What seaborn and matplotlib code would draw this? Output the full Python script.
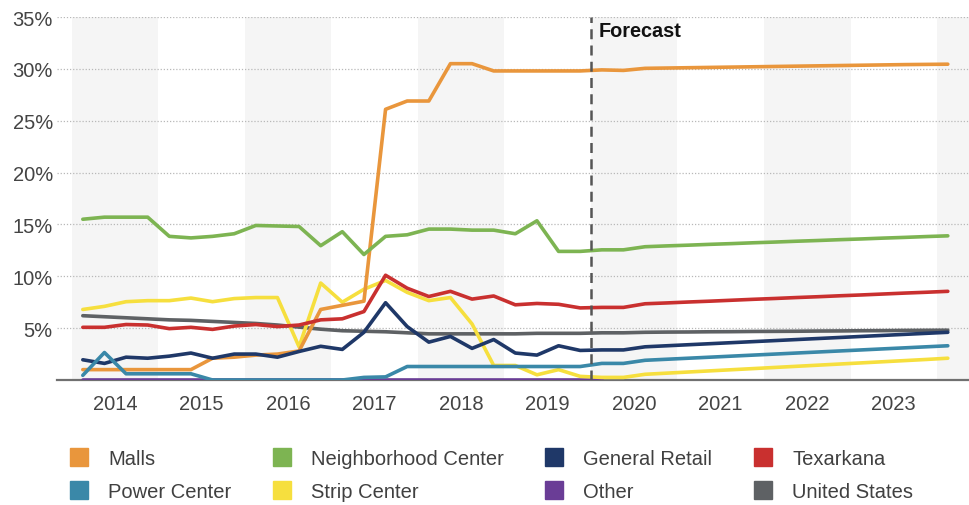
import numpy as np
import pandas as pd
import matplotlib
matplotlib.use("Agg")
import matplotlib.pyplot as plt
from matplotlib.lines import Line2D
from matplotlib.ticker import FixedLocator, FuncFormatter
import seaborn as sns

# ---------------- data ----------------
years = list(range(2014, 2025))
quarters = [f"{y}Q{q}" for y in range(2014, 2024) for q in range(1, 5)] + ["2024Q1"]

malls = [1.0, 1.0, 1.0, 1.0, 1.0, 1.0, 2.1, 2.2, 2.4, 2.5, 2.8, 6.8, 7.2, 7.6,
         26.1, 26.9, 26.9, 30.5, 30.5, 29.8, 29.8, 29.8, 29.8, 29.8, 29.9, 29.85,
         30.05, 30.08, 30.11, 30.14, 30.17, 30.2, 30.23, 30.26, 30.29, 30.32, 30.35,
         30.38, 30.41, 30.43, 30.45]
neighborhood = [15.5, 15.7, 15.7, 15.7, 13.85, 13.7, 13.85, 14.1, 14.9, 14.85, 14.8,
                12.95, 14.3, 12.1, 13.85, 14.0, 14.55, 14.55, 14.45, 14.45, 14.1, 15.35,
                12.4, 12.4, 12.55, 12.55, 12.85, 12.93, 13.0, 13.08, 13.15, 13.23, 13.3,
                13.38, 13.45, 13.53, 13.6, 13.68, 13.75, 13.83, 13.9]
general_retail = [1.95, 1.6, 2.2, 2.1, 2.3, 2.6, 2.1, 2.5, 2.5, 2.2, 2.75, 3.25, 2.95,
                  4.6, 7.45, 5.15, 3.65, 4.2, 3.05, 3.9, 2.6, 2.4, 3.3, 2.85, 2.9, 2.9,
                  3.2, 3.3, 3.4, 3.5, 3.6, 3.7, 3.8, 3.9, 4.0, 4.1, 4.2, 4.3, 4.4, 4.5, 4.6]
texarkana = [5.08, 5.08, 5.35, 5.3, 4.95, 5.08, 4.88, 5.2, 5.35, 5.15, 5.3, 5.8, 5.9,
             6.6, 10.1, 8.85, 8.05, 8.55, 7.8, 8.1, 7.25, 7.38, 7.3, 6.95, 7.0, 7.0,
             7.35, 7.43, 7.52, 7.6, 7.69, 7.78, 7.86, 7.95, 8.03, 8.12, 8.2, 8.29,
             8.38, 8.46, 8.55]
power_center = [0.45, 2.65, 0.6, 0.6, 0.6, 0.6, 0.0, 0.0, 0.0, 0.0, 0.0, 0.0, 0.0,
                0.25, 0.3, 1.3, 1.3, 1.3, 1.3, 1.3, 1.3, 1.3, 1.3, 1.3, 1.6, 1.6, 1.9,
                2.0, 2.1, 2.2, 2.3, 2.4, 2.5, 2.6, 2.7, 2.8, 2.9, 3.0, 3.1, 3.2, 3.3]
strip_center = [6.8, 7.1, 7.55, 7.65, 7.65, 7.9, 7.55, 7.85, 7.95, 7.95, 3.2, 9.35,
                7.5, 8.75, 9.6, 8.45, 7.65, 7.95, 5.4, 1.4, 1.4, 0.5, 1.0, 0.35, 0.25,
                0.25, 0.55, 0.66, 0.77, 0.88, 0.99, 1.1, 1.21, 1.32, 1.43, 1.54, 1.65,
                1.76, 1.87, 1.98, 2.1]
other = [0.0] * 25 + [np.nan] * 16
united_states = [6.2, 6.1, 6.0, 5.9, 5.8, 5.75, 5.65, 5.55, 5.45, 5.3, 5.1, 4.9, 4.75,
                 4.7, 4.65, 4.55, 4.45, 4.45, 4.45, 4.45, 4.45, 4.5, 4.5, 4.5, 4.55,
                 4.55, 4.6, 4.62, 4.63, 4.65, 4.66, 4.68, 4.69, 4.7, 4.72, 4.73, 4.75,
                 4.76, 4.78, 4.79, 4.8]

series = {
    "Malls": malls,
    "Neighborhood Center": neighborhood,
    "General Retail": general_retail,
    "Texarkana": texarkana,
    "Power Center": power_center,
    "Strip Center": strip_center,
    "Other": other,
    "United States": united_states,
}
colors = {
    "Malls": "#E9963C",
    "Neighborhood Center": "#7DB452",
    "General Retail": "#1F3868",
    "Texarkana": "#C9302F",
    "Power Center": "#3A88A8",
    "Strip Center": "#F6DF3E",
    "Other": "#6A3D96",
    "United States": "#5E6164",
}
draw_order = ["Other", "United States", "Strip Center", "Malls", "General Retail",
              "Texarkana", "Neighborhood Center", "Power Center"]
forecast_start = 2020

# ---------------- build frame ----------------
xpos = [int(q[:4]) + (int(q[-1]) - 0.5) / 4 for q in quarters]
rows = []
for name in draw_order:
    for x, v in zip(xpos, series[name]):
        rows.append({"x": x, "value": v, "series": name})
df = pd.DataFrame(rows)

# ---------------- plot ----------------
sns.set_theme(style="white")
plt.rcParams["font.family"] = ["Liberation Sans", "DejaVu Sans"]

fig = plt.figure(figsize=(9.7, 5.06), dpi=100)
ax = fig.add_axes([57 / 970, 125 / 506, 913 / 970, 363 / 506])

# alternating year bands
for y in years:
    if y % 2 == 0:
        ax.axvspan(y, y + 1, color="#F5F5F5", zorder=0, lw=0)

sns.lineplot(data=df, x="x", y="value", hue="series", hue_order=draw_order,
             palette=colors, linewidth=2.6, legend=False, ax=ax, zorder=3,
             estimator=None, sort=False)
for ln in ax.get_lines():
    ln.set_solid_capstyle("round")

ax.set_xlim(2013.8266, 2024.3815)
ax.set_ylim(0, 35)

# grid
ax.set_yticks([5, 10, 15, 20, 25, 30, 35])
ax.yaxis.set_major_formatter(FuncFormatter(lambda v, p: f"{int(v)}%"))
ax.grid(axis="y", color="#B8B8B8", linestyle=(0, (1, 1.5)), linewidth=0.9, zorder=1)
ax.grid(axis="x", visible=False)
ax.set_axisbelow(True)

# x ticks
ax.xaxis.set_major_locator(FixedLocator(years))
ax.xaxis.set_major_formatter(FuncFormatter(lambda v, p: ""))
minors = [y + f for y in years for f in (0.25, 0.5, 0.75) if y + f < 2024.38]
ax.xaxis.set_minor_locator(FixedLocator(minors))
ax.xaxis.set_minor_formatter(
    FuncFormatter(lambda v, p: f"{int(v)}" if abs(v - int(v) - 0.5) < 1e-6 and int(v) < 2024 else ""))
ax.tick_params(axis="x", which="major", direction="inout", length=15, width=1.6,
               color="#666666")
ax.tick_params(axis="x", which="minor", direction="in", length=7, width=1.1,
               color="#666666", labelsize=14.5, labelcolor="#444444", pad=10)
ax.tick_params(axis="y", length=0, labelsize=14.5, labelcolor="#444444", pad=3)

for s in ["top", "right", "left"]:
    ax.spines[s].set_visible(False)
ax.spines["bottom"].set_color("#707070")
ax.spines["bottom"].set_linewidth(1.6)
ax.spines["bottom"].set_zorder(2)

ax.set_xlabel("")
ax.set_ylabel("")

# forecast marker
ax.axvline(forecast_start, color="#555555", linestyle=(0, (4, 2.5)), linewidth=1.8, zorder=4)
ax.text(forecast_start + 0.09, 33.7, "Forecast", fontsize=14.3, fontweight="bold",
        color="#111111", va="center", ha="left", zorder=5)

# legend (column-major order)
legend_order = ["Malls", "Power Center", "Neighborhood Center", "Strip Center",
                "General Retail", "Other", "Texarkana", "United States"]
handles = [Line2D([], [], linestyle="none", marker="s", markersize=12.5,
                  markerfacecolor=colors[n], markeredgecolor=colors[n]) for n in legend_order]
fig.legend(handles, legend_order, loc="upper left", bbox_to_anchor=(69 / 970, 1 - 450 / 506),
           ncol=4, frameon=False, fontsize=14.5, labelcolor="#404040",
           handlelength=1.0, handletextpad=0.95, columnspacing=2.0, labelspacing=0.68,
           borderpad=0, borderaxespad=0)

fig.savefig("out.png", dpi=100)
